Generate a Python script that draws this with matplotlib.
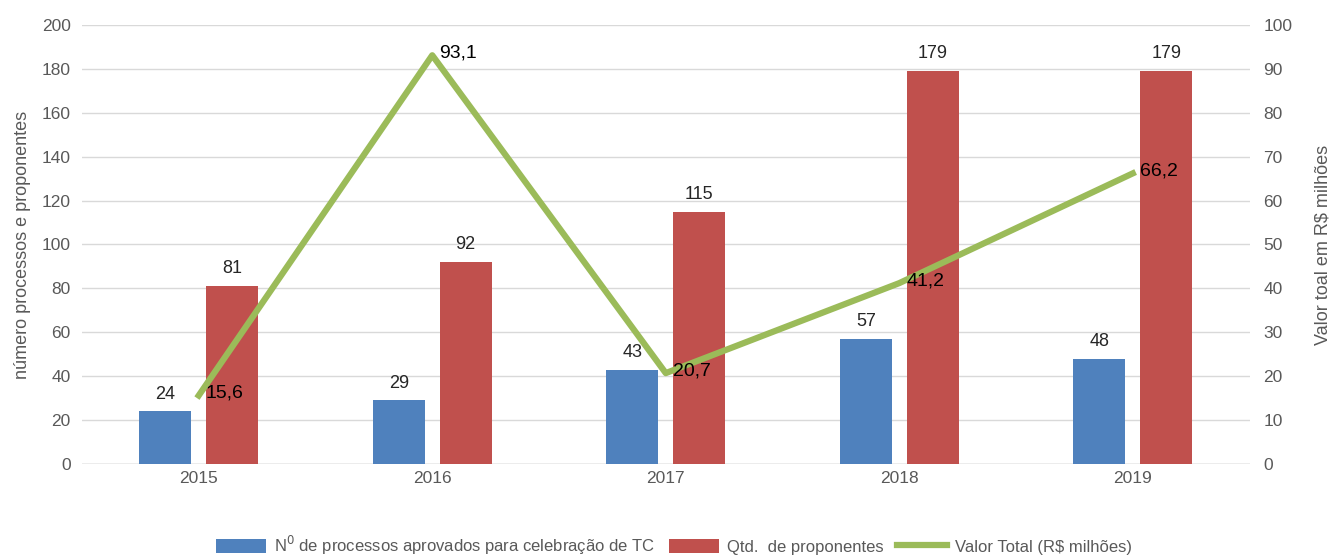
import numpy as np
import matplotlib.pyplot as plt

anos = ["2015", "2016", "2017", "2018", "2019"]
processos = [24, 29, 43, 57, 48]
proponentes = [81, 92, 115, 179, 179]
valor_total = [15.6, 93.1, 20.7, 41.2, 66.2]

plt.rcParams['font.family'] = ['Liberation Sans', 'DejaVu Sans']

fig = plt.figure(figsize=(13.35, 5.55), dpi=100)
ax = fig.add_axes([0.0614, 0.164, 0.8746, 0.791])
ax2 = ax.twinx()

x = np.arange(len(anos))
w = 0.222
off = 0.143
b1 = ax.bar(x - off, processos, w, color="#4F81BD", label="N$^0$ de processos aprovados para celebração de TC", zorder=2)
b2 = ax.bar(x + off, proponentes, w, color="#C0504D", label="Qtd.  de proponentes", zorder=2)
ln, = ax2.plot(x, valor_total, color="#9BBB59", lw=4.5, label="Valor Total (R$ milhões)", zorder=3)

for xi, v in zip(x - off, processos):
    ax.text(xi, v + 4, str(v), ha="center", va="bottom", fontsize=13, color="#262626")
for xi, v in zip(x + off, proponentes):
    ax.text(xi, v + 4, str(v), ha="center", va="bottom", fontsize=13, color="#262626")
for xi, v in zip(x, valor_total):
    ax2.text(xi + 0.03, v + 0.5, str(v).replace(".", ","), ha="left", va="center", fontsize=14, color="black", zorder=4)

ax.set_xlim(-0.5, 4.5)
ax.set_ylim(0, 200)
ax.set_yticks(range(0, 201, 20))
ax2.set_ylim(0, 100)
ax2.set_yticks(range(0, 101, 10))
ax.set_xticks(x)
ax.set_xticklabels(anos)
ax.grid(axis="y", color="#D9D9D9", lw=1, zorder=0)
ax.set_axisbelow(True)

for a in (ax, ax2):
    for s in ("top", "left", "right", "bottom"):
        a.spines[s].set_visible(False)
    a.tick_params(length=0, labelsize=12.5, colors="#595959")
ax.tick_params(axis="y", pad=8)
ax2.tick_params(axis="y", pad=10)
ax.axhline(0, color="#BFBFBF", lw=1, zorder=1)
ax.tick_params(axis="x", pad=5)

ax.set_ylabel("número processos e proponentes", fontsize=13, color="#595959", labelpad=8)
ax2.set_ylabel("Valor toal em R$ milhões", fontsize=13, color="#595959", labelpad=16)

leg = fig.legend(handles=[b1, b2, ln], loc="center", bbox_to_anchor=(0.505, 0.018), ncol=3, frameon=False,
                 handlelength=3.0, handleheight=0.9, columnspacing=0.8, handletextpad=0.5,
                 prop={"family": ["Liberation Sans", "DejaVu Sans"], "size": 12})
for t in leg.get_texts():
    t.set_color("#595959")

fig.savefig("out.png", dpi=100)
